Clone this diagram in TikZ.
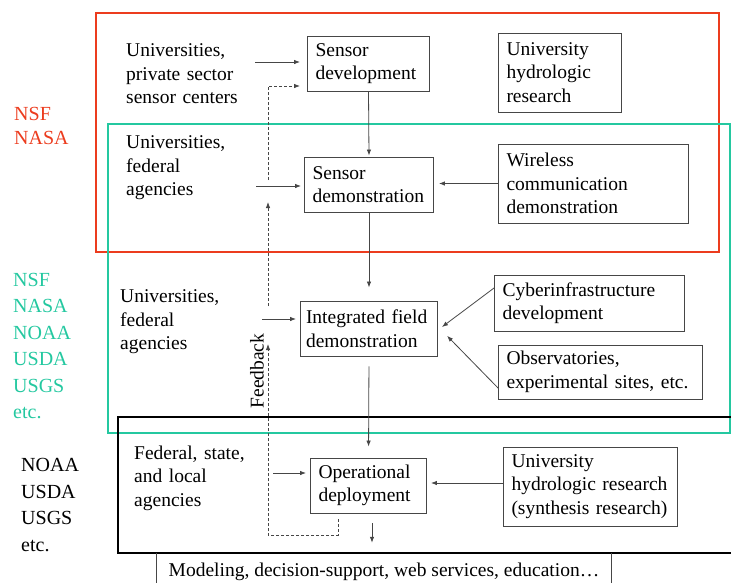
\documentclass[tikz,border=0pt]{standalone}
\usepackage{fontspec}
\setmainfont{Liberation Serif}
\usetikzlibrary{arrows.meta}
\definecolor{fundred}{RGB}{236,60,30}
\definecolor{fundgreen}{RGB}{36,200,160}
\definecolor{linegray}{RGB}{70,70,70}

\begin{document}
\begin{tikzpicture}[x=1pt,y=-1pt]
  \useasboundingbox (0,0) rectangle (731,582);
  \tikzstyle{every node}=[font=\fontsize{19.5}{23.5}\selectfont]
  \tikzstyle{stage}=[draw=linegray,line width=0.9pt,inner xsep=8pt,inner ysep=0pt,align=left]
  \tikzstyle{actor}=[inner sep=0pt,anchor=west,align=left]
  \tikzstyle{agency}=[inner sep=0pt,anchor=west,align=left,font=\fontsize{20}{26.4}\selectfont]
  \tikzstyle{arr}=[-{Latex[length=6pt,width=4.5pt]},line width=0.8pt,draw=linegray]
  \tikzstyle{fb}=[arr,dash pattern=on 3pt off 2pt]
  \tikzstyle{region}=[line width=2.5pt]

%% funding regions
  \draw[region,fundred]   (96,13)   rectangle (719,252);
  \draw[region,fundgreen] (108,124) rectangle (730,433);
  \draw[region,black]     (118,417) rectangle (745,553);

  \node[agency,text=fundred,font=\fontsize{20}{23.5}\selectfont] (fund-a) at (14,126) {NSF\\NASA};
  \node[agency,text=fundgreen] (fund-b) at (13,346) {NSF\\NASA\\NOAA\\USDA\\USGS\\etc.};
  \node[agency,text=black]     (fund-c) at (21,505) {NOAA\\USDA\\USGS\\etc.};

%% stages
  \node[stage,text width=106pt,minimum height=55pt] (sdev)  at (368.5,63.5) {Sensor\\development};
  \node[stage,text width=107pt,minimum height=79pt] (uhr)   at (560,72.5)   {University\\hydrologic\\research};
  \node[stage,text width=113pt,minimum height=55pt] (sdem)  at (369,184.5)  {Sensor\\demonstration};
  \node[stage,text width=174pt,minimum height=79pt] (wcd)   at (593.5,183.5){Wireless\\communication\\demonstration};
  \node[stage,text width=126pt,inner xsep=5.5pt,minimum height=55pt] (ifd) at (369,328.5) {Integrated field\\demonstration};
  \node[stage,text width=174pt,minimum height=56pt] (cyber) at (589.5,303)  {Cyberinfrastructure\\development};
  \node[stage,text width=188pt,minimum height=54pt] (obs)   at (600.5,372)  {Observatories,\\experimental sites, etc.};
  \node[stage,text width=100pt,minimum height=55pt] (opd)   at (368.5,485.5){Operational\\deployment};
  \node[stage,text width=158pt,minimum height=79pt] (uhrs)  at (590.5,486.5){University\\hydrologic research\\(synthesis research)};

%% actors
  \node[actor,text width=129pt] (uni1) at (126,74)  {Universities,\\private sector\\sensor centers};
  \node[actor,text width=130pt] (uni2) at (126,168) {Universities,\\federal\\agencies};
  \node[actor,text width=142pt] (uni3) at (120,322) {Universities,\\federal\\agencies};
  \node[actor,text width=139pt] (fed)  at (134,478) {Federal, state,\\and local\\agencies};

  \node[minimum width=454pt,minimum height=38pt] (model) at (384,572) {Modeling, decision-support, web services, education…};
  \draw[linegray,line width=0.9pt] (model.north west) -- (model.south west);
  \draw[linegray,line width=0.9pt] (model.north east) -- (model.south east);

%% actors -> stages
  \draw[arr,shorten >=7pt] ([yshift=12pt]uni1.east)  -- ([yshift=1.5pt]sdev.west);
  \draw[arr,shorten >=3pt] ([yshift=-18pt]uni2.east) -- ([yshift=-1.5pt]sdem.west);
  \draw[arr,shorten >=4pt] ([yshift=3pt]uni3.east)   -- ([yshift=9.5pt]ifd.west);
  \draw[arr,shorten >=4pt] ([yshift=5pt]fed.east)    -- ([yshift=12.5pt]opd.west);

%% main chain
  \draw[arr,shorten >=1pt]  (sdev.south) -- (sdem.north);
  \draw[arr,shorten >=13pt] (sdem.south) -- (ifd.north);
  \draw[arr,shorten <=10pt,shorten >=11pt] (ifd.south) -- (opd.north);
  \coordinate (out) at ([xshift=3.5pt]opd.south);
  \draw[arr,shorten <=10pt,shorten >=10pt] (out) -- (out |- model.north);

%% side inputs
  \draw[arr,shorten >=5pt]  (wcd.west) -- (wcd.west -| sdem.east);
  \draw[arr,shorten >=5pt]  ([yshift=15pt]cyber.west) -- ([yshift=-1.5pt]ifd.east);
  \draw[arr,shorten >=13pt] ([yshift=-16pt]obs.west)  -- ([yshift=2pt]ifd.east);
  \draw[arr,shorten >=4pt]  ([yshift=3.5pt]uhrs.west) -- ([yshift=2.5pt]opd.east);

%% feedback
  \coordinate (fb-a) at (268,344);
  \coordinate (fb-b) at (268,306);
  \coordinate (fb-c) at (268,202);
  \coordinate (fb-d) at (268,180);
  \draw[fb,shorten <=6pt] ([xshift=-30.5pt]opd.south) -- ++(0,22) -| (fb-a);
  \draw[fb] (fb-b) -- (fb-c);
  \draw[fb,shorten >=7pt] (fb-d) |- ([yshift=-22.5pt]sdev.west);
  \node[rotate=90] (fb-label) at (257,371) {Feedback};
\end{tikzpicture}
\end{document}
